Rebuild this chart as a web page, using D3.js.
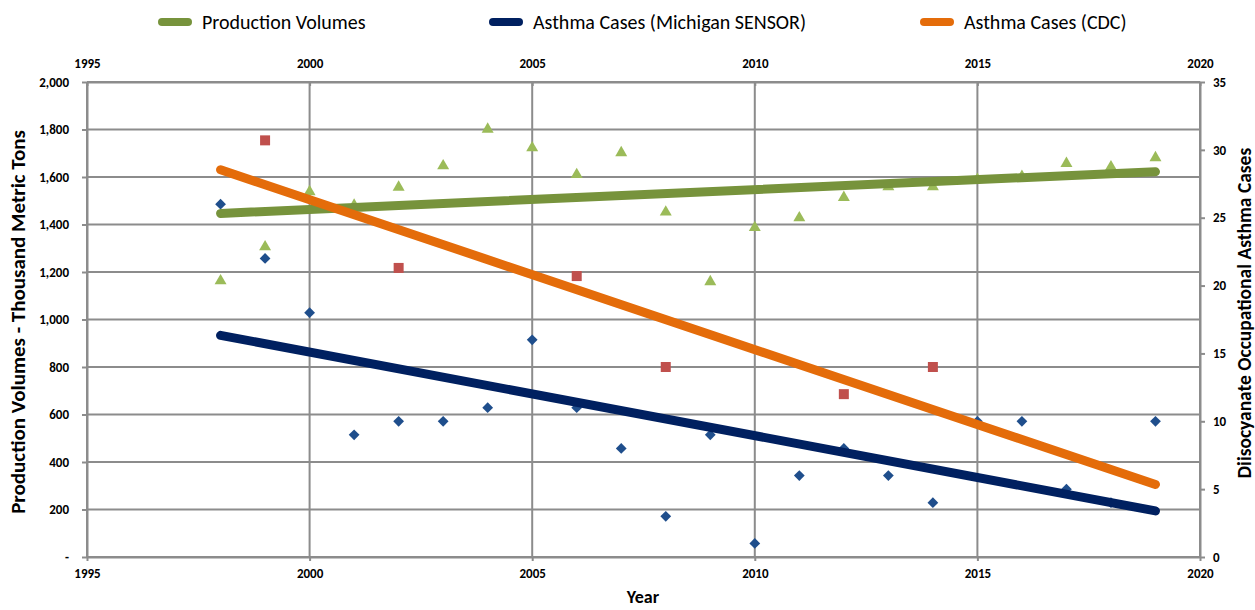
<!DOCTYPE html>
<html>
<head>
<meta charset="utf-8">
<script src="https://cdn.jsdelivr.net/npm/d3@7"></script>
<style>
  body { margin: 0; background: #fff; }
  text { font-family: Carlito, "Open Sans", "Liberation Sans", sans-serif; }
  .tick text { font-size: 13px; font-weight: bold; fill: #000; }
  .axis-title { font-weight: bold; }
  .legend text { font-size: 20px; }
</style>
</head>
<body>
<svg width="1255" height="610"></svg>
<script>
const years = [1998, 1999, 2000, 2001, 2002, 2003, 2004, 2005, 2006, 2007, 2008,
  2009, 2010, 2011, 2012, 2013, 2014, 2015, 2016, 2017, 2018, 2019];
const productionVolumes = [1163, 1306, 1538, 1481, 1557, 1647, 1801, 1723, 1610, 1702, 1452,
  1159, 1387, 1428, 1514, 1559, 1559, 1590, 1603, 1657, 1643, 1681];
const sensorCases = [26, 22, 18, 9, 10, 10, 11, 16, 11, 8, 3,
  9, 1, 6, 8, 6, 4, 10, 10, 5, 4, 10];
const cdcYears = [1999, 2002, 2006, 2008, 2012, 2014];
const cdcCases = [30.7, 21.3, 20.7, 14, 12, 14];

const yearTicks = [1995, 2000, 2005, 2010, 2015, 2020];
const leftTicks = [0, 200, 400, 600, 800, 1000, 1200, 1400, 1600, 1800, 2000];
const rightTicks = [0, 5, 10, 15, 20, 25, 30, 35];
const legendLabels = ["Production Volumes", "Asthma Cases (Michigan SENSOR)", "Asthma Cases (CDC)"];

const svg = d3.select("svg");
const gridColor = "#8c8c8c";

const x = d3.scaleLinear().domain([1995, 2020]).range([87, 1200]);
const yLeft = d3.scaleLinear().domain([0, 2000]).range([557, 82]);
const yRight = d3.scaleLinear().domain([0, 35]).range([557, 82]);

// gridlines
svg.append("g")
  .selectAll("line")
  .data(leftTicks)
  .enter()
  .append("line")
  .attr("x1", 87).attr("x2", 1200)
  .attr("y1", d => yLeft(d)).attr("y2", d => yLeft(d))
  .attr("stroke", gridColor).attr("stroke-width", 2);

svg.append("g")
  .selectAll("line")
  .data(yearTicks)
  .enter()
  .append("line")
  .attr("x1", d => x(d)).attr("x2", d => x(d))
  .attr("y1", 82).attr("y2", 557)
  .attr("stroke", gridColor).attr("stroke-width", 2);

const styleAxis = g => {
  g.select(".domain").attr("stroke", gridColor).attr("stroke-width", 2);
  g.selectAll(".tick line").attr("stroke", gridColor).attr("stroke-width", 2);
};

const axisLeft = d3.axisLeft(yLeft)
  .tickValues(leftTicks)
  .tickSizeInner(5).tickSizeOuter(0).tickPadding(13)
  .tickFormat(d => d === 0 ? "-" : d3.format(",")(d));
svg.append("g").attr("transform", "translate(87,0)").call(axisLeft).call(styleAxis);

const axisRight = d3.axisRight(yRight)
  .tickValues(rightTicks)
  .tickSizeInner(5).tickSizeOuter(0).tickPadding(8)
  .tickFormat(d3.format("d"));
svg.append("g").attr("transform", "translate(1200,0)").call(axisRight).call(styleAxis);

const axisBottom = d3.axisBottom(x)
  .tickValues(yearTicks)
  .tickSizeInner(4).tickSizeOuter(0).tickPadding(8)
  .tickFormat(d3.format("d"));
svg.append("g").attr("transform", "translate(0,557)").call(axisBottom).call(styleAxis);

const axisTop = d3.axisTop(x)
  .tickValues(yearTicks)
  .tickSizeInner(-4).tickSizeOuter(0).tickPadding(14)
  .tickFormat(d3.format("d"));
svg.append("g").attr("transform", "translate(0,82)").call(axisTop).call(styleAxis);

// axis titles
svg.append("text").attr("class", "axis-title")
  .attr("transform", "translate(25,322) rotate(-90)")
  .attr("text-anchor", "middle")
  .style("font-size", "21px")
  .text("Production Volumes - Thousand Metric Tons");
svg.append("text").attr("class", "axis-title")
  .attr("transform", "translate(1251,313) rotate(-90)")
  .attr("text-anchor", "middle")
  .style("font-size", "19.5px")
  .text("Diisocyanate Occupational Asthma Cases");
svg.append("text").attr("class", "axis-title")
  .attr("x", 643).attr("y", 603)
  .attr("text-anchor", "middle")
  .style("font-size", "18px")
  .text("Year");

// markers
const triangle = d3.symbol().type(d3.symbolTriangle).size(62);
const diamond = d3.symbol().type(d3.symbolSquare).size(58);
const square = d3.symbol().type(d3.symbolSquare).size(100);

svg.append("g")
  .selectAll("path")
  .data(years.map((yr, i) => [yr, productionVolumes[i]]))
  .enter()
  .append("path")
  .attr("d", triangle)
  .attr("transform", d => `translate(${x(d[0])},${yLeft(d[1])})`)
  .attr("fill", "#9bbb59");

svg.append("g")
  .selectAll("path")
  .data(years.map((yr, i) => [yr, sensorCases[i]]))
  .enter()
  .append("path")
  .attr("d", diamond)
  .attr("transform", d => `translate(${x(d[0])},${yRight(d[1])}) rotate(45)`)
  .attr("fill", "#1f4e8c");

svg.append("g")
  .selectAll("path")
  .data(cdcYears.map((yr, i) => [yr, cdcCases[i]]))
  .enter()
  .append("path")
  .attr("d", square)
  .attr("transform", d => `translate(${x(d[0])},${yRight(d[1])})`)
  .attr("fill", "#c0504d");

// linear trendlines, least squares over each series, drawn 1998-2019
const fit = (xs, ys) => {
  const mx = d3.mean(xs), my = d3.mean(ys);
  const sxy = d3.sum(xs, (v, i) => (v - mx) * (ys[i] - my));
  const sxx = d3.sum(xs, v => (v - mx) * (v - mx));
  const slope = sxy / sxx;
  return t => my + slope * (t - mx);
};

const trendRange = [years[0], years[years.length - 1]];
const trends = [
  { f: fit(years, productionVolumes), scale: yLeft, color: "#77933c" },
  { f: fit(years, sensorCases), scale: yRight, color: "#002060" },
  { f: fit(cdcYears, cdcCases), scale: yRight, color: "#e46c0a" }
];

trends.forEach(t => {
  svg.append("path")
    .attr("d", d3.line()
      .x(d => x(d))
      .y(d => t.scale(t.f(d)))(trendRange))
    .attr("stroke", t.color)
    .attr("stroke-width", 9)
    .attr("stroke-linecap", "round")
    .attr("fill", "none");
});

// legend
const legendX = [158, 489, 920];
const legendColors = ["#77933c", "#002060", "#e46c0a"];
const legend = svg.append("g").attr("class", "legend");
legendLabels.forEach((label, i) => {
  legend.append("line")
    .attr("x1", legendX[i] + 4).attr("x2", legendX[i] + 30)
    .attr("y1", 22).attr("y2", 22)
    .attr("stroke", legendColors[i])
    .attr("stroke-width", 8)
    .attr("stroke-linecap", "round");
  legend.append("text")
    .attr("x", legendX[i] + 44).attr("y", 29)
    .text(label);
});
</script>
</body>
</html>
